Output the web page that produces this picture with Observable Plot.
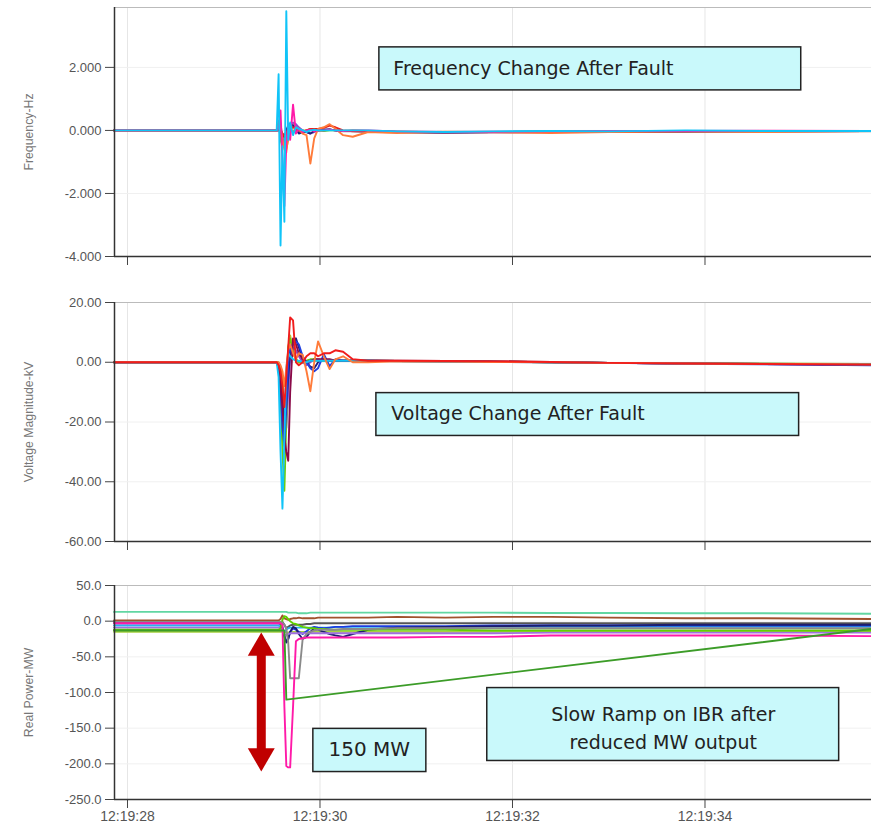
<!DOCTYPE html>
<html><head><meta charset="utf-8">
<script src="https://cdn.jsdelivr.net/npm/d3@7"></script>
<script src="https://cdn.jsdelivr.net/npm/@observablehq/plot@0.6"></script>
<style>
body{margin:0;background:#fff;}
#chart svg{display:block;}
</style></head><body><div id="chart"></div>
<script>
// ---- shared time axis (seconds after 12:19:00) ----
const timeSec = [27.86, 29.55, 29.57, 29.59, 29.61, 29.63, 29.65, 29.67, 29.69, 29.72, 29.75, 29.78, 29.82, 29.86, 29.90, 29.94, 29.98, 30.04, 30.10, 30.16, 30.24, 30.34, 30.50, 30.80, 31.30, 31.80, 32.40, 33.00, 33.80, 34.60, 35.73];
const xTicks = [28, 30, 32, 34];
const xTickLabels = ["12:19:28", "12:19:30", "12:19:32", "12:19:34"];

// ---- Frequency (Hz) ----
const freqTicks = [-4, -2, 0, 2];
const fOlive   = [0, 0, 0.1, -0.1, -0.3, -0.5, -0.6, -0.3, 0, 0.1, 0.1, 0.05, 0, 0, 0.02, 0, 0, 0, 0.02, 0, -0.02, -0.02, -0.03, -0.05, -0.06, -0.05, -0.04, -0.03, -0.03, -0.02, -0.02];
const fGreen   = [0, 0, 0.3, -0.3, -0.5, -0.4, -0.2, 0, 0.1, 0.15, 0.1, 0, -0.05, 0, 0.05, 0, 0, -0.02, 0, 0, -0.02, 0, -0.02, -0.04, -0.06, -0.05, -0.04, -0.03, -0.03, -0.02, -0.02];
const fGrey    = [0, 0, 0, 0.2, -0.2, -0.35, -0.15, 0.05, 0.2, 0.2, 0.15, 0.05, -0.05, -0.05, 0, 0.02, 0, 0, 0.02, 0, -0.03, -0.03, -0.04, -0.06, -0.08, -0.06, -0.05, -0.04, -0.04, -0.03, -0.03];
const fPurple  = [0, 0, 0, 0.1, -0.3, -0.45, -0.1, 0.1, 0.2, 0.25, 0.2, 0.1, 0, -0.05, -0.1, -0.05, 0, 0.02, 0.03, 0, -0.02, -0.02, -0.03, -0.05, -0.07, -0.06, -0.05, -0.04, -0.03, -0.03, -0.02];
const fNavy    = [0, 0, 0, 0, -0.1, -0.2, 0, 0.15, 0.2, 0.15, 0.05, -0.1, -0.05, -0.05, -0.1, -0.02, 0, 0.02, 0.03, 0, -0.02, -0.02, -0.03, -0.05, -0.06, -0.05, -0.04, -0.04, -0.03, -0.03, -0.02];
const fRed     = [0, 0, 0, 0, -0.1, -0.2, -0.1, 0.05, 0.1, 0.1, 0.05, 0, -0.05, 0, 0.05, 0.05, 0.05, 0.08, 0.15, 0.1, 0, -0.03, -0.03, -0.05, -0.06, -0.05, -0.04, -0.04, -0.03, -0.03, -0.02];
const fOrange  = [0, 0, 0.2, 0.15, -0.3, -0.6, -0.7, -0.15, 0.05, -0.05, 0.1, 0.05, -0.1, -0.15, -1.05, -0.25, 0.05, 0.1, 0.2, 0.05, -0.15, -0.2, -0.05, -0.08, -0.04, -0.06, -0.08, -0.05, -0.03, -0.05, -0.02];
const fMagenta = [0, 0, 0.1, 0.63, -1.0, -2.4, -0.4, 0.2, -0.3, 0.82, -0.1, 0.05, -0.05, 0, 0.02, -0.02, 0, 0, 0.02, 0, -0.02, 0, 0, -0.03, -0.05, -0.04, -0.03, -0.02, -0.02, -0.01, -0.02];
const fCyan    = [0, 0, 1.78, -3.65, -0.5, -2.9, 3.78, -0.3, 0.25, -0.15, 0.1, 0.05, 0, -0.05, 0, 0.02, 0, 0, 0, 0, 0, 0, 0, -0.03, -0.05, -0.03, -0.02, -0.03, 0, -0.02, -0.02];

// ---- Voltage magnitude (kV) ----
const voltTicks = [-60, -40, -20, 0, 20];
const vOlive   = [0, 0, 0, -2, -5, -15, -10, 5, 9, 4, 1, 0, 0, 0, 0.5, 0.5, 0.5, 0.5, 0.5, 0.5, 0.5, 0.5, 0.5, 0.4, 0.3, 0.2, 0, -0.2, -0.3, -0.5, -0.6];
const vPurple  = [0, 0, -1, -4, -10, -18, -22, -10, 2, 5, 4, 2, 0, -1, 0, 1, 1, 0.5, 0.5, 0.5, 0.5, 0.5, 0.5, 0.4, 0.3, 0.1, 0, -0.2, -0.4, -0.6, -0.7];
const vGreen   = [0, 0, -2, -10, -30, -43, -20, 5, 8, 3, 1, 0, 0, 0.5, 1, 1, 0.5, 0.5, 0.5, 0.5, 0.5, 0.5, 0.5, 0.4, 0.3, 0.2, 0, -0.2, -0.3, -0.5, -0.6];
const vNavy    = [0, 0, -1, -5, -12, -20, -15, -5, 3, 6, 8, 5, 1, 0, -1.5, -2, 0, 1, 0.5, 0.5, 0.5, 0.5, 0.5, 0.4, 0.3, 0.2, 0, -0.2, -0.4, -0.6, -0.8];
const vBlue    = [0, 0, -1, -10, -22, -28, -15, 0, 5, 6, 7, 6, 2, 0, -2, -3, -2, 2.7, -1.3, 1, 0.5, 0.5, 0.5, 0.4, 0.3, 0.2, 0, -0.2, -0.5, -0.7, -1];
const vMaroon  = [0, 0, -2, -8, -15, -25, -30, -33, -10, 8, 6, 3, 1, 0, 0.5, 1, 1, 1, 1, 0.5, 0.5, 0.5, 0.5, 0.5, 0.4, 0.3, 0.1, -0.2, -0.4, -0.6, -0.8];
const vCyan    = [0, 0, -5, -30, -49, -25, -2, 3, 2, 1, 0.5, 0.5, 0, 0, 0.5, 0.5, 0.5, 0.5, 0.5, 0.5, 0.5, 0.5, 0.5, 0.3, 0.2, 0.1, 0, -0.2, -0.4, -0.5, -0.7];
const vOrange  = [0, 0, 0, -1, -3, -8, -2, 4, 6, 3, 1, 3, 2.5, -3, -9.7, 0, 7, 2, -2.3, 1, 2, 0, 0, 0.3, 0.2, 0.1, 0, -0.2, -0.4, -0.5, -0.7];
const vRed     = [0, 0, -1, -3, -8, -15, -5, 5, 15, 14, 0, -1, 0, 2, 3, 3, 2, 3, 3, 4, 3.5, 1, 0.5, 0.5, 0.4, 0.3, 0.1, -0.2, -0.4, -0.6, -0.8];

// ---- Real power (MW) ----
const powerTicks = [-250, -200, -150, -100, -50, 0, 50];
const pMint     = [13, 13, 13, 13, 13, 13, 13, 12, 12, 12, 12, 11, 11, 11, 12, 12, 12, 12, 12, 12, 12, 12, 12, 12, 12, 12, 11.5, 11.5, 11, 11, 10.5];
const pBrown    = [1, 1, 1, 3, 8, 4, 3, 2, 3, 4, 4, 5, 4, 4, 4, 4, 5, 5, 5, 5, 5, 5, 5, 6, 5, 6, 6, 5, 4, 4, 3];
const pDarkGrey = [-1, -1, -1, -1, -1, -5, -10, -8, -6, -5, -5, -5, -5, -4, -4, -3, -3, -3, -3, -3, -3, -3, -3, -3, -3, -3, -3, -3, -3, -3, -3];
const pBlue     = [-3, -3, -3, -4, -8, -20, -28, -25, -15, -10, -12, -15, -18, -14, -10, -8, -9, -10, -9, -8, -8, -7, -7, -7, -7, -6, -6, -6, -6, -6, -6];
const pLightBlue= [-6, -6, -6, -8, -12, -15, -12, -10, -9, -9, -9, -9, -9, -9, -9, -9, -9, -9, -9, -8, -8, -8, -8, -8, -8, -8, -8, -8, -8, -8, -8];
const pNavy     = [-2, -2, -2, -3, -10, -22, -30, -25, -15, -8, -10, -18, -25, -22, -15, -10, -12, -15, -18, -20, -22, -18, -12, -9, -8, -7, -6, -6, -5, -5, -5];
const pPurple   = [-9, -9, -9, -10, -14, -18, -20, -18, -17, -17, -17, -17, -17, -17, -17, -17, -17, -17, -17, -17, -17, -17, -17, -17, -17, -17, -16, -16, -16, -16, -16];
const pYellowGreen = [-15, -15, -15, -15, -15, -15, -16, -16, -15, -15, -15, -15, -15, -15, -15, -15, -15, -15, -15, -15, -15, -15, -15, -15, -15, -15, -15, -15, -15, -15, -15];
const pLime     = [-12, -12, -12, -10, 2, 7, 6, 3, 0, -3, -4, -6, -8, -9, -10, -10, -11, -11, -12, -12, -12, -12, -12, -12, -12, -13, -13, -13, -13, -13, -13];
const pGrey     = [-1, -1, -1, -1, -2, -5, -10, -30, -80, -80, -80, -80, -25, -18, -15, -13, -12, -12, -12, -12, -11, -11, -11, -10, -10, -10, -10, -10, -10, -10, -10];
const pMagenta  = [-3, -3, -3, -3, -5, -120, -203, -205, -205, -120, -28, -25, -24, -23, -23, -23, -23, -23, -23, -23, -23, -23, -23, -23, -22, -22, -20, -20, -20, -20, -21];
const pIBR      = [-13, -13, -13, -13, -13, -13, -110, null, null, null, null, null, null, null, null, null, null, null, null, null, null, null, null, null, null, null, null, null, null, null, -11];

// ---- annotations ----
const freqNote = ["Frequency Change After Fault"];
const voltNote = ["Voltage Change After Fault"];
const rampNote = ["Slow Ramp on IBR after\nreduced MW output"];
const mwNote = ["150 MW"];

const xDomain = [27.865, 35.73];
const W = 871;
const tickFont = "'Liberation Sans',Arial,sans-serif";
const boxFont = "'DejaVu Sans',sans-serif";
const boxFill = "#c9f9fb";

function series(values, name, color) {
  return {name, color, data: timeSec.map((t, i) => ({t, v: values[i]})).filter(d => d.v != null)};
}

function lineMarks(list) {
  return list.map(s => Plot.line(s.data, {x: "t", y: "v", stroke: s.color, strokeWidth: 1.9}));
}

function panel({height, marginTop, marginBottom, yDomain, yTicks, yFmt, label, showX, list, extra}) {
  return Plot.plot({
    width: W, height, marginLeft: 114, marginRight: 0, marginTop, marginBottom,
    style: {fontFamily: tickFont, fontSize: "13px", color: "#555", background: "#fff", overflow: "visible"},
    x: {domain: xDomain, axis: null},
    y: {domain: yDomain, axis: null},
    marks: [
      Plot.gridX(xTicks, {stroke: "#e6e6e6", strokeOpacity: 1}),
      Plot.gridY(yTicks, {stroke: "#f0f0f0", strokeOpacity: 1}),
      Plot.ruleY([yDomain[1]], {stroke: "#bbb"}),
      ...lineMarks(list),
      ...(extra || []),
      Plot.axisY(yTicks, {tickSize: 9, tickPadding: 4, tickFormat: yFmt, label: null, stroke: "#444", fontSize: 13}),
      Plot.axisX(xTicks, {tickSize: 9, tickPadding: 3, label: null, stroke: "#444", fontSize: 14,
        tickFormat: showX ? (d => xTickLabels[xTicks.indexOf(d)]) : (() => "")}),
      Plot.ruleX([xDomain[0]], {stroke: "#333", strokeWidth: 1.5}),
      Plot.ruleY([yDomain[0]], {stroke: "#333", strokeWidth: 1.5}),
      Plot.text([label], {frameAnchor: "left", dx: -85, rotate: -90, textAnchor: "middle", fontSize: 12.3, fill: "#777", fontFamily: "'Liberation Sans',sans-serif"})
    ]
  });
}

const freqList = [
  series(fOlive, "olive", "#c8b428"), series(fGreen, "green", "#6ccc10"), series(fGrey, "grey", "#8a8a8a"),
  series(fPurple, "purple", "#8a4fd0"), series(fNavy, "navy", "#20207a"), series(fRed, "red", "#e8201c"),
  series(fOrange, "orange", "#ff7b3a"), series(fMagenta, "magenta", "#ff1aa8"), series(fCyan, "cyan", "#10c4f8")
];
const voltList = [
  series(vOlive, "olive", "#c8b428"), series(vPurple, "purple", "#8a4fd0"), series(vGreen, "green", "#6ccc10"),
  series(vNavy, "navy", "#20207a"), series(vBlue, "blue", "#1f3fe0"), series(vMaroon, "maroon", "#8a0a48"),
  series(vCyan, "cyan", "#10c4f8"), series(vOrange, "orange", "#ff7b3a"), series(vRed, "red", "#f01c1c")
];
const powerList = [
  series(pMint, "mint", "#62d6a2"), series(pBrown, "brown", "#a0522d"), series(pDarkGrey, "darkgrey", "#555555"),
  series(pYellowGreen, "yellowgreen", "#a6d040"), series(pLightBlue, "lightblue", "#28b4ee"), series(pBlue, "blue", "#1c3ce0"),
  series(pNavy, "navy", "#1d1d6e"), series(pPurple, "purple", "#a070e0"), series(pLime, "lime", "#5fd000"),
  series(pGrey, "grey", "#8a8a8a"), series(pMagenta, "magenta", "#ff1aa8"), series(pIBR, "ibr", "#3c9c28")
];

const freqExtra = [
  Plot.rect([{x1: 30.617, x2: 35.0, y1: 1.27, y2: 2.635}], {x1: "x1", x2: "x2", y1: "y1", y2: "y2", fill: boxFill, stroke: "#222", strokeWidth: 1.5}),
  Plot.text(freqNote, {x: 30.762, y: 1.95, textAnchor: "start", fontSize: 19, fill: "#222", fontFamily: boxFont})
];
const voltExtra = [
  Plot.rect([{x1: 30.586, x2: 34.978, y1: -24.67, y2: -10.33}], {x1: "x1", x2: "x2", y1: "y1", y2: "y2", fill: boxFill, stroke: "#222", strokeWidth: 1.5}),
  Plot.text(voltNote, {x: 30.741, y: -17.3, textAnchor: "start", fontSize: 19, fill: "#222", fontFamily: boxFont})
];
const powerExtra = [
  Plot.ruleX([{x: 29.39, y1: -41, y2: -181}], {x: "x", y1: "y1", y2: "y2", stroke: "#c00000", strokeWidth: 9}),
  Plot.dot([{x: 29.39, y: -37.6}], {x: "x", y: "y", symbol: "triangle", r: 10, fill: "#c00000", stroke: "none"}),
  Plot.dot([{x: 29.39, y: -189}], {x: "x", y: "y", symbol: "triangle", r: 10, rotate: 180, fill: "#c00000", stroke: "none"}),
  Plot.rect([{x1: 31.738, x2: 35.394, y1: -196, y2: -93.8}], {x1: "x1", x2: "x2", y1: "y1", y2: "y2", fill: boxFill, stroke: "#222", strokeWidth: 1.5}),
  Plot.text(rampNote, {x: 33.566, y: -147, textAnchor: "middle", fontSize: 19, lineHeight: 1.5, fill: "#222", fontFamily: boxFont}),
  Plot.rect([{x1: 29.931, x2: 31.105, y1: -211.5, y2: -151}], {x1: "x1", x2: "x2", y1: "y1", y2: "y2", fill: boxFill, stroke: "#222", strokeWidth: 1.5}),
  Plot.text(mwNote, {x: 30.513, y: -180.7, textAnchor: "middle", fontSize: 20, fill: "#222", fontFamily: boxFont})
];

const chart = document.getElementById("chart");
chart.append(panel({height: 280, marginTop: 7, marginBottom: 24, yDomain: [-4, 3.9], yTicks: freqTicks,
  yFmt: d => d.toFixed(3), label: "Frequency-Hz", showX: false, list: freqList, extra: freqExtra}));
chart.append(panel({height: 285, marginTop: 22, marginBottom: 24, yDomain: [-60, 20], yTicks: voltTicks,
  yFmt: d => d.toFixed(2), label: "Voltage Magnitude-kV", showX: false, list: voltList, extra: voltExtra}));
chart.append(panel({height: 261, marginTop: 20, marginBottom: 27, yDomain: [-250, 50], yTicks: powerTicks,
  yFmt: d => d.toFixed(1), label: "Real Power-MW", showX: true, list: powerList, extra: powerExtra}));
</script>
</body></html>
